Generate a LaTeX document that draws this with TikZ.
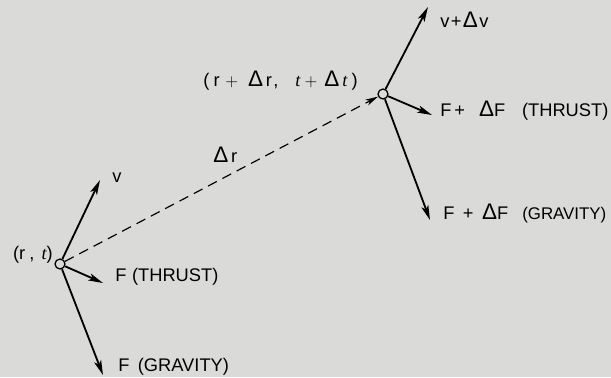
\documentclass[tikz,border=0pt]{standalone}
\usepackage{fontspec}
\setmainfont{Liberation Sans}
\newfontfamily\tvarfont{Liberation Serif}
\usetikzlibrary{arrows.meta}
\definecolor{paper}{RGB}{218,218,216}
\newcommand{\tvar}{{\tvarfont\itshape t}}
\newcommand{\dlt}{{\fontsize{16}{16}\selectfont Δ}}
\newcommand{\capsm}[1]{{\fontsize{12}{14}\selectfont #1}}

\begin{document}
\begin{tikzpicture}[x=0.025cm,y=-0.025cm,
  vec/.style={line width=1.3pt,-{Stealth[length=10.5pt,width=5.2pt,inset=2.5pt]}},
  pt/.style={circle,draw,line width=0.9pt,fill=paper,inner sep=0pt,minimum size=0.25cm},
  lbl/.style={inner sep=0pt,font=\fontsize{13}{15}\selectfont}]
 \fill[paper] (0,0) rectangle (611,377);
 \useasboundingbox (0,0) rectangle (611,377);

 \node[pt] (p1) at (60,264) {};
 \node[pt] (p2) at (383,94) {};

 \coordinate (v1) at (100,180);
 \coordinate (ft1) at (103,283);
 \coordinate (fg1) at (103,375);
 \coordinate (v2) at (428,7);
 \coordinate (ft2) at (432,115);
 \coordinate (fg2) at (430,220);

 \draw[vec] (p1) -- (v1);
 \draw[vec] (p1) -- (ft1);
 \draw[vec] (p1) -- (fg1);
 \draw[vec] (p2) -- (v2);
 \draw[vec] (p2) -- (ft2);
 \draw[vec] (p2) -- (fg2);
 \draw[line width=0.85pt,dash pattern=on 7pt off 4.5pt,-{Stealth[length=9pt,width=4.5pt,inset=2.5pt]}] (p1) -- (p2);

 \node[lbl,anchor=east] (pos1) at (53,255) {(r\hspace{3pt},\hspace{5pt}\tvar)};
 \node[lbl,anchor=west] (lv1) at (112,178) {v};
 \node[lbl,anchor=west] (lft1) at (115,277) {F\hspace{4pt}(THRUST)};
 \node[lbl,anchor=west] (lfg1) at (118,367) {F\hspace{6pt}(GRAVITY)};
 \node[lbl,anchor=west] (ldr) at (213,155) {\dlt\hspace{2pt}r};
 \node[lbl,anchor=east] (pos2) at (358,81) {(\hspace{3pt}r\hspace{4pt}$+$\hspace{7pt}\dlt\hspace{2pt}r\hspace{1pt},\hspace{12pt}\tvar\hspace{3pt}$+$\hspace{5pt}\dlt\hspace{2pt}\tvar\hspace{3pt})};
 \node[lbl,anchor=west] (lv2) at (440,20) {v\hspace{1pt}+\hspace{1pt}\dlt\hspace{1pt}v};
 \node[lbl,anchor=west] (lft2) at (440,111) {F\hspace{2pt}+\hspace{10pt}\dlt F\hspace{12pt}(THRUST)};
 \node[lbl,anchor=west] (lfg2) at (443,213) {F\hspace{6pt}+\hspace{6pt}\dlt F\hspace{10pt}\capsm{(GRAVITY)}};
\end{tikzpicture}
\end{document}
